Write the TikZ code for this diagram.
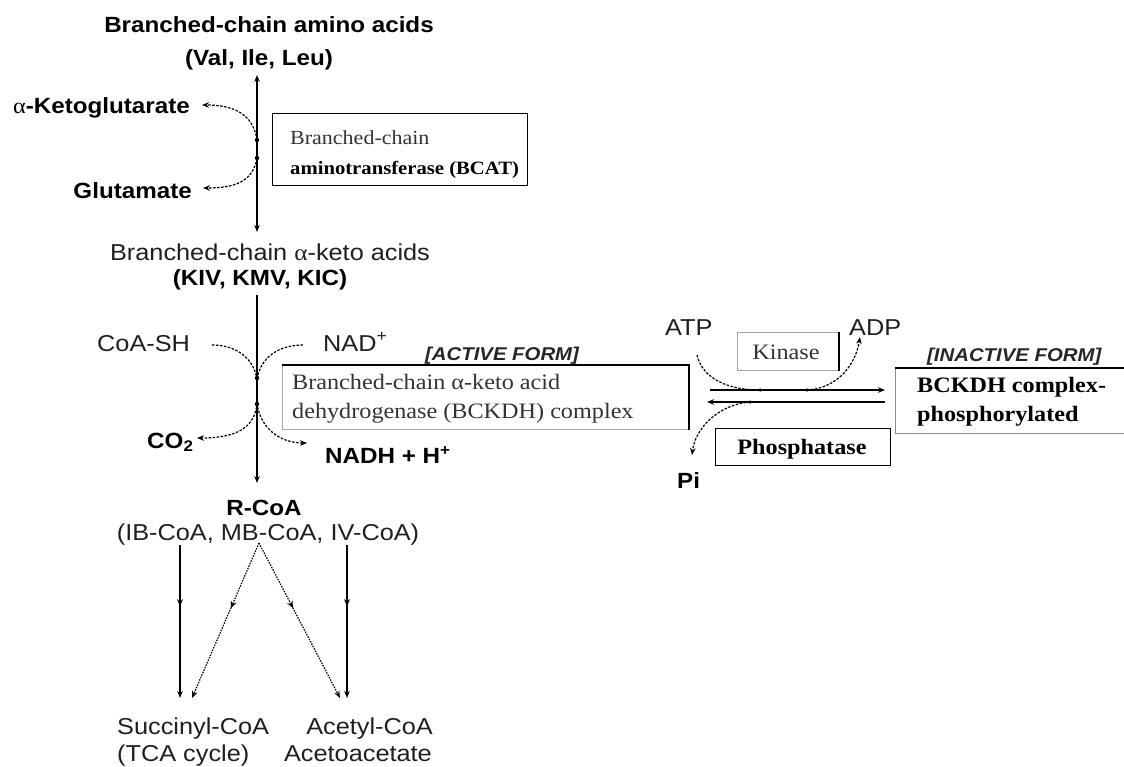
\documentclass[tikz,border=0pt]{standalone}
\usepackage{fontspec}
\setmainfont{Liberation Serif}
\newfontfamily\lbl[FakeStretch=1.1]{Liberation Sans}
\newfontfamily\bxf[FakeStretch=1.1]{Liberation Serif}
\usetikzlibrary{arrows.meta,decorations.markings}
\begin{document}
\begin{tikzpicture}[x=1pt,y=-1pt,
  lab/.style={font=\lbl\fontsize{23}{27}\selectfont, inner sep=0pt, text=black!88},
  labb/.style={font=\lbl\bfseries\fontsize{22}{26}\selectfont, inner sep=0pt, text=black},
  labi/.style={font=\lbl\bfseries\itshape\fontsize{18.5}{22}\selectfont, inner sep=0pt, text=black!85},
  btxt/.style={font=\bxf\fontsize{22}{26}\selectfont, inner sep=0pt, text=black!80},
  btxtb/.style={font=\bxf\bfseries\fontsize{22}{26}\selectfont, inner sep=0pt, text=black},
  boxnode/.style={draw=black, line width=1.4pt, inner sep=0pt, anchor=north west},
  graybox/.style={draw=black!35, line width=1pt, inner sep=0pt, anchor=north west},
  mainline/.style={line width=1.6pt, draw=black},
  tip/.style={-{Stealth[length=7pt,width=5.5pt]}},
  dtip/.style={{Stealth[length=7pt,width=5.5pt]}-{Stealth[length=7pt,width=5.5pt]}},
  dashcurve/.style={line width=1.2pt, dash pattern=on 2.5pt off 1.5pt},
  midarrow/.style={postaction={decorate}, decoration={markings,
     mark=at position #1 with {\arrow{Stealth[length=7pt,width=6pt]}}}},
  blob/.style={circle, fill=black, inner sep=0pt, minimum size=4.5pt}
]
\useasboundingbox (0,0) rectangle (1124,766);

% ---- top labels
\node[labb, anchor=base] (aa1) at (269,32) {Branched-chain amino acids};
\node[labb, anchor=base] (aa2) at (259,65) {(Val, Ile, Leu)};
\node[labb, anchor=base east] (akg) at (190,113) {{\bxf\mdseries α}-Ketoglutarate};
\node[labb, anchor=base east] (glu) at (192,198) {Glutamate};

% BCAT box
\node[boxnode, minimum width=255pt, minimum height=72pt] (bcat) at (272,113) {};
\node[btxt, font=\bxf\fontsize{20}{24}\selectfont, anchor=base west] (bcat1) at (290,144) {Branched-chain};
\node[btxtb, font=\bxf\bfseries\fontsize{18.8}{23}\selectfont, anchor=base west] (bcat2) at (290,174) {aminotransferase (BCAT)};

% keto acids
\node[lab, anchor=base] (bk1) at (270,260) {Branched-chain {\bxf α}-keto acids};
\node[labb, anchor=base] (bk2) at (260,285) {(KIV, KMV, KIC)};

% main line coordinates
\coordinate (m1) at (257,75);
\coordinate (m2) at (257,232);
\coordinate (j1) at (257,140);
\coordinate (j2) at (257,158);
\coordinate (m3) at (257,295);
\coordinate (m4) at (257,483);
\coordinate (j3) at (257,380);
\coordinate (j4) at (257,403);
\coordinate (akgt) at (202,105);
\coordinate (glut) at (203,188);

\draw[mainline, dtip] (m1) -- (m2);
\draw[dashcurve, tip] (j1) .. controls (253,114) and (234,105) .. (akgt);
\draw[dashcurve, tip] (j2) .. controls (253,182) and (234,188) .. (glut);
\node[blob] (b1) at (j1) {};
\node[blob] (b2) at (j2) {};

% CoA-SH, NAD+
\node[lab, anchor=base west] (coa) at (97,351) {CoA-SH};
\node[lab, anchor=base west] (nad) at (323,351) {NAD\textsuperscript{+}};
\node[labi, anchor=base west] (act) at (425,360) {[ACTIVE FORM]};

\coordinate (coas) at (212,345);
\coordinate (nads) at (303,345);
\coordinate (co2t) at (197,438);
\coordinate (nadht) at (307,443);
\draw[mainline, tip] (m3) -- (m4);
\draw[dashcurve] (coas) .. controls (240,345) and (255,362) .. (j3);
\draw[dashcurve] (nads) .. controls (274,345) and (259,362) .. (j3);
\draw[dashcurve, tip] (j4) .. controls (255,428) and (236,438) .. (co2t);
\draw[dashcurve, tip] (j4) .. controls (260,428) and (280,443) .. (nadht);
\node[blob] (b3) at (257,378) {};
\node[blob] (b4) at (257,404) {};

% BCKDH active box
\node[graybox, minimum width=406pt, minimum height=64pt] (bck) at (282,365) {};
\draw[line width=1.6pt] (bck.north west) -- (bck.north east) -- (bck.south east);
\node[btxt, anchor=base west] (bck1) at (292,389) {Branched-chain {\bxf α}-keto acid};
\node[btxt, anchor=base west] (bck2) at (292,418) {dehydrogenase (BCKDH) complex};

\node[labb, anchor=base west] (co2) at (147,448) {CO\textsubscript{2}};
\node[labb, anchor=base west] (nadh) at (325,463) {NADH + H\textsuperscript{+}};

% R-CoA
\node[labb, anchor=base] (rc1) at (264,515) {R-CoA};
\node[lab, anchor=base] (rc2) at (268,540) {(IB-CoA, MB-CoA, IV-CoA)};

\coordinate (l1) at (180,545);
\coordinate (l2) at (180,698);
\coordinate (r1) at (347,545);
\coordinate (r2) at (347,698);
\coordinate (ap) at (259,543);
\coordinate (dl) at (192,698);
\coordinate (dr) at (340,698);
\draw[mainline, tip, midarrow=0.4] (l1) -- (l2);
\draw[mainline, tip, midarrow=0.4] (r1) -- (r2);
\draw[line width=1.2pt, dash pattern=on 1.5pt off 1.2pt, tip, midarrow=0.42] (ap) -- (dl);
\draw[line width=1.2pt, dash pattern=on 1.5pt off 1.2pt, tip, midarrow=0.42] (ap) -- (dr);

\node[lab, anchor=base west] (suc1) at (117,734) {Succinyl-CoA};
\node[lab, anchor=base west] (suc2) at (117,761) {(TCA cycle)};
\node[lab, anchor=base east] (ac1) at (433,734) {Acetyl-CoA};
\node[lab, anchor=base east] (ac2) at (432,761) {Acetoacetate};

% right part
\node[lab, anchor=base west] (atp) at (665,335) {ATP};
\node[lab, anchor=base west] (adp) at (849,335) {ADP};
\node[labb, anchor=base west] (pi) at (677,488) {Pi};
\node[labi, anchor=base west] (inact) at (927,361) {[INACTIVE FORM]};

\node[graybox, minimum width=101pt, minimum height=38pt] (kin) at (737,332) {};
\draw[line width=1.6pt] (kin.north east) -- (kin.south east);
\node[btxt, anchor=base] (kint) at (786,359) {Kinase};

\node[boxnode, minimum width=175pt, minimum height=37pt] (pho) at (715,428) {};
\node[btxtb, anchor=base] (phot) at (802,454) {Phosphatase};

\coordinate (ph) at (895,368);
\draw[draw=black!45, line width=1pt] (1130,433) -- (895,433) -- (ph);
\draw[line width=1.6pt] (ph) -- (1130,368);
\node[btxtb, anchor=base west] (ph1) at (917,392) {BCKDH complex-};
\node[btxtb, anchor=base west] (ph2) at (917,421) {phosphorylated};

\coordinate (f1) at (710,390);
\coordinate (f2) at (885,390);
\coordinate (g1) at (885,402);
\coordinate (g2) at (707,402);
\coordinate (atps) at (697,355);
\coordinate (ka) at (760,390);
\coordinate (kb) at (807,390);
\coordinate (adpt) at (860,337);
\coordinate (pa) at (750,402);
\coordinate (pit) at (692,455);
\draw[line width=1.5pt, tip] (f1) -- (f2);
\draw[line width=1.5pt, tip] (g1) -- (g2);
\draw[dashcurve] (atps) .. controls (703,380) and (730,390) .. (ka);
\draw[dashcurve, tip] (kb) .. controls (840,388) and (856,362) .. (adpt);
\draw[dashcurve, tip] (pa) .. controls (716,405) and (695,430) .. (pit);
\node[blob, minimum size=3.5pt] at (ka) {};
\node[blob, minimum size=3.5pt] at (kb) {};
\node[blob, minimum size=3.5pt] at (pa) {};
\end{tikzpicture}
\end{document}
